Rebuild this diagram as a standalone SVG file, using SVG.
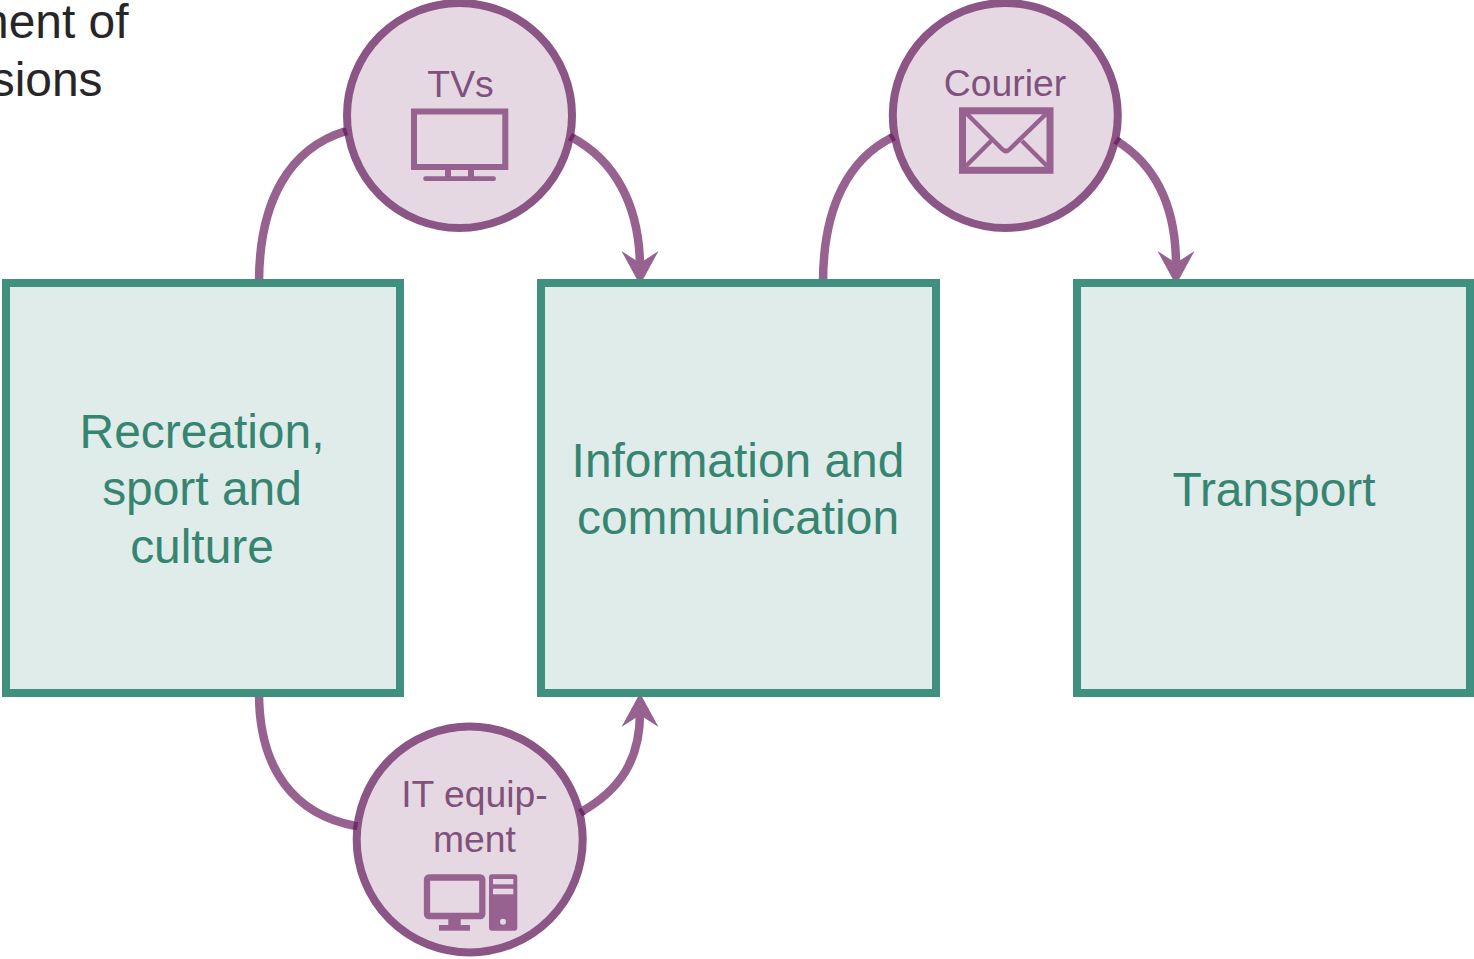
<svg xmlns="http://www.w3.org/2000/svg" width="1474" height="959" viewBox="0 0 1474 959">
<style>
text{font-family:"Liberation Sans",Arial,sans-serif;text-anchor:middle}
.box{fill:#e0ecea;stroke:#409080;stroke-width:8}
.boxt{font-size:47.900px;fill:#368571}
.circ{fill:#e5d8e3;stroke:#8b5585;stroke-width:8}
.ct{font-size:37.300px;fill:#80517b}
.con{fill:none;stroke:#97628f;stroke-width:8.500}
.jt{fill:none;stroke:#6f2a68;stroke-width:8}
.ah{fill:#97628f;stroke:none}
.ic{fill:#97628f;stroke:none}
.il{fill:none;stroke:#97628f}
.pt{font-size:47.900px;fill:#262626;text-anchor:end}
.hole{fill:#e5d8e3}
</style>
<defs>
<path id="ahd" class="ah" d="M0 0L-18.500 -34L0 -22L18.500 -34Z"/>
</defs>
<g id="caption">
<text class="pt" x="128.500" y="38">ment of</text>
<text class="pt" x="102.500" y="96">sions</text>
</g>
<g id="tvs">
<circle class="circ" cx="459.500" cy="115.500" r="112.500"/>
<text class="ct" x="460.500" y="97">TVs</text>
<rect class="il" x="414" y="111.500" width="91.300" height="55.500" stroke-width="6"/>
<rect class="ic" x="445" y="170" width="6" height="7"/>
<rect class="ic" x="468" y="170" width="6" height="7"/>
<rect class="ic" x="423.300" y="176.300" width="72.500" height="4.700" rx="2"/>
</g>
<g id="courier">
<circle class="circ" cx="1005.300" cy="115.500" r="112.500"/>
<text class="ct" x="1005" y="96">Courier</text>
<rect class="il" x="962.500" y="110.800" width="87.500" height="59.500" stroke-width="7"/>
<path class="il" stroke-width="4.500" d="M966 113L1002 149Q1006 153 1010 149L1047 113M991 141L966 166M1022 141L1047 166"/>
</g>
<g id="it-equipment">
<circle class="circ" cx="469.700" cy="839.500" r="113"/>
<text class="ct" x="474.500" y="807">IT equip-</text>
<text class="ct" x="474.500" y="852">ment</text>
<rect class="il" x="427" y="877.500" width="55.300" height="38.500" rx="2" stroke-width="6.300"/>
<rect class="ic" x="448.300" y="919" width="12.400" height="7"/>
<rect class="ic" x="439" y="925" width="31" height="5.700"/>
<rect class="ic" x="489" y="874.300" width="28.300" height="56.400" rx="3"/>
<rect class="hole" x="493" y="879" width="20.300" height="5.300"/>
<rect class="hole" x="493" y="888.700" width="20.300" height="5.600"/>
<circle class="hole" cx="503" cy="921.700" r="3"/>
</g>
<g id="connectors">
<path class="con" d="M259 283C259 200 290 148 346 131"/>
<path class="con" d="M571 137C615 160 639 205 640 265"/>
<use href="#ahd" x="640" y="285"/>
<path class="con" d="M823 283C823 205 850 158 893 137"/>
<path class="con" d="M1117 141C1155 165 1176 205 1176 265"/>
<use href="#ahd" x="1176" y="285"/>
<path class="con" d="M259 693C259 770 295 815 356 826"/>
<path class="con" d="M581 812C620 790 640 760 640 713"/>
<use href="#ahd" transform="translate(640 693) rotate(180)"/>
<path class="jt" d="M343.500 132.500L347 131.200"/>
<path class="jt" d="M570 136.500L573.500 138.500"/>
<path class="jt" d="M890.500 138.500L894 136.500"/>
<path class="jt" d="M1115.500 140L1119 142.200"/>
<path class="jt" d="M353.500 825.500L357.500 826.200"/>
<path class="jt" d="M580 813L583.500 811"/>
</g>
<g id="recreation">
<rect class="box" x="6" y="283" width="394" height="410"/>
<text class="boxt" x="202" y="448">Recreation,</text>
<text class="boxt" x="202" y="505">sport and</text>
<text class="boxt" x="202" y="563">culture</text>
</g>
<g id="information">
<rect class="box" x="541" y="283" width="395" height="410"/>
<text class="boxt" x="738" y="477">Information and</text>
<text class="boxt" x="738" y="534">communication</text>
</g>
<g id="transport">
<rect class="box" x="1077" y="283" width="393" height="410"/>
<text class="boxt" x="1274" y="506">Transport</text>
</g>
</svg>
